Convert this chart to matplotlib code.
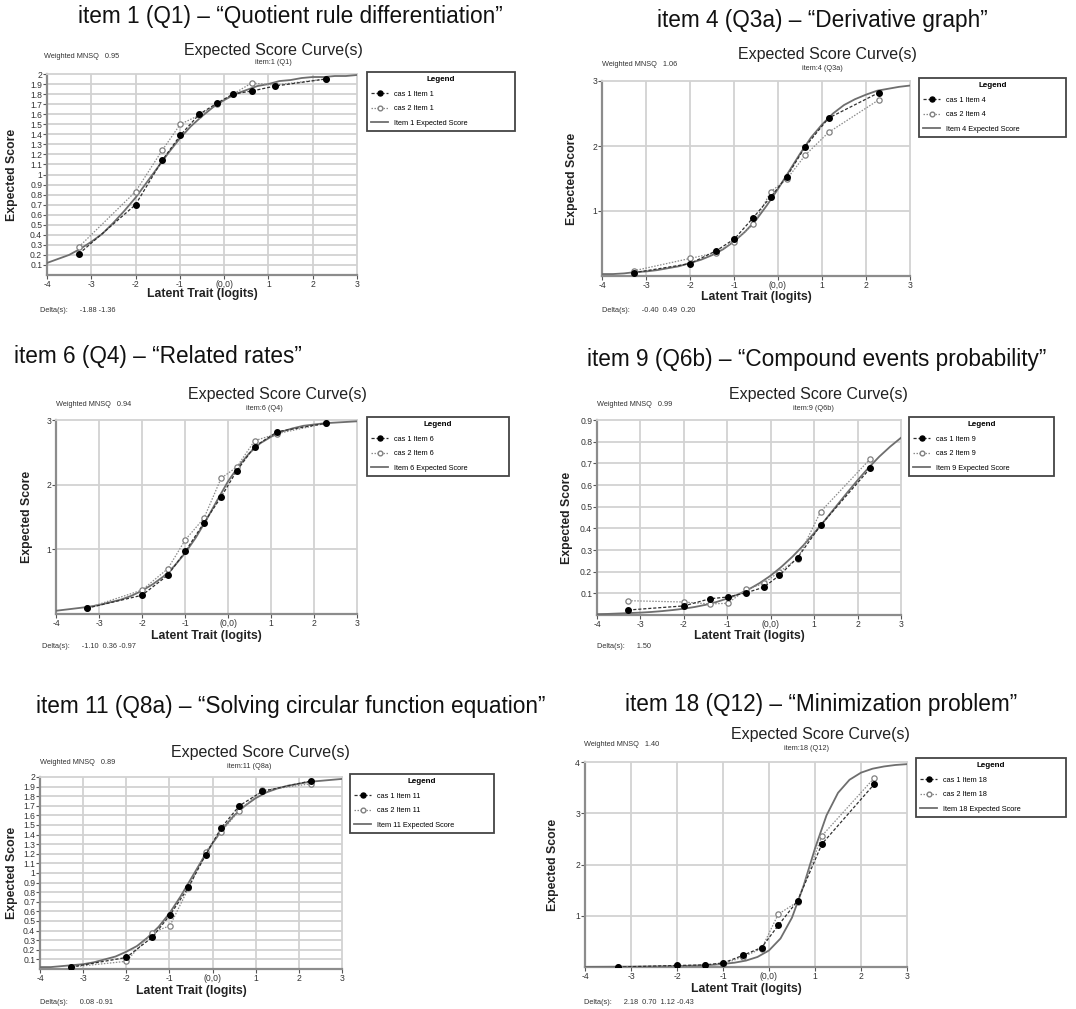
import matplotlib
matplotlib.use("Agg")
import matplotlib.pyplot as plt
from matplotlib.lines import Line2D

plt.rcParams["font.family"] = ["Liberation Sans", "DejaVu Sans"]

# ---------------- data ----------------
theta = [-4, -3.75, -3.5, -3.25, -3, -2.75, -2.5, -2.25, -2, -1.75, -1.5, -1.25, -1,
         -0.75, -0.5, -0.25, 0, 0.25, 0.5, 0.75, 1, 1.25, 1.5, 1.75, 2, 2.25, 2.5, 2.75, 3]
groups = [-3.28, -2.0, -1.4, -0.99, -0.56, -0.16, 0.2, 0.62, 1.15, 2.29]

item1_curve = [0.12, 0.16, 0.20, 0.26, 0.33, 0.41, 0.52, 0.64, 0.77, 0.92, 1.07, 1.22, 1.36,
               1.48, 1.58, 1.67, 1.74, 1.80, 1.84, 1.88, 1.90, 1.93, 1.94, 1.96, 1.97, 1.97,
               1.98, 1.98, 1.99]
item1_cas1 = [0.21, 0.70, 1.14, 1.39, 1.60, 1.71, 1.80, 1.83, 1.88, 1.95]
item1_cas2 = [0.28, 0.83, 1.24, 1.50, 1.59, 1.70, 1.80, 1.91, 1.89, 1.95]

item4_curve = [0.03, 0.03, 0.04, 0.06, 0.07, 0.09, 0.12, 0.15, 0.20, 0.25, 0.32, 0.41, 0.53,
               0.68, 0.86, 1.09, 1.34, 1.61, 1.88, 2.13, 2.33, 2.50, 2.63, 2.72, 2.79, 2.85,
               2.88, 2.91, 2.93]
item4_cas1 = [0.05, 0.19, 0.39, 0.57, 0.90, 1.22, 1.53, 1.99, 2.43, 2.82]
item4_cas2 = [0.08, 0.27, 0.36, 0.53, 0.80, 1.30, 1.49, 1.86, 2.21, 2.71]

item6_curve = [0.05, 0.07, 0.09, 0.11, 0.14, 0.18, 0.22, 0.28, 0.36, 0.46, 0.58, 0.74, 0.94,
               1.18, 1.46, 1.76, 2.05, 2.29, 2.49, 2.64, 2.74, 2.82, 2.87, 2.91, 2.93, 2.95,
               2.96, 2.97, 2.98]
item6_cas1 = [0.09, 0.29, 0.60, 0.97, 1.41, 1.81, 2.21, 2.59, 2.82, 2.95]
item6_cas2 = [0.09, 0.37, 0.70, 1.15, 1.48, 2.10, 2.27, 2.68, 2.79, 2.95]

item9_curve = [0.004, 0.005, 0.007, 0.009, 0.011, 0.014, 0.018, 0.023, 0.029, 0.037, 0.047,
               0.060, 0.076, 0.095, 0.119, 0.148, 0.182, 0.223, 0.269, 0.321, 0.378, 0.438,
               0.500, 0.562, 0.622, 0.679, 0.731, 0.777, 0.818]
item9_cas1 = [0.023, 0.042, 0.075, 0.083, 0.103, 0.128, 0.183, 0.265, 0.414, 0.677]
item9_cas2 = [0.066, 0.060, 0.051, 0.054, 0.118, 0.146, 0.200, 0.260, 0.477, 0.720]

item11_curve = [0.02, 0.02, 0.03, 0.04, 0.05, 0.07, 0.10, 0.13, 0.18, 0.24, 0.33, 0.44, 0.58,
                0.75, 0.94, 1.13, 1.31, 1.47, 1.60, 1.70, 1.78, 1.84, 1.88, 1.91, 1.93, 1.95,
                1.96, 1.97, 1.98]
item11_cas1 = [0.02, 0.12, 0.33, 0.56, 0.85, 1.19, 1.47, 1.70, 1.85, 1.96]
item11_cas2 = [0.02, 0.08, 0.38, 0.45, 0.84, 1.22, 1.43, 1.65, 1.86, 1.93]

item18_curve = [0.002, 0.003, 0.004, 0.005, 0.006, 0.008, 0.010, 0.013, 0.017, 0.023, 0.031,
                0.042, 0.059, 0.084, 0.125, 0.196, 0.323, 0.556, 0.964, 1.581, 2.313, 2.958,
                3.398, 3.653, 3.792, 3.869, 3.913, 3.942, 3.958]
item18_cas1 = [0.00, 0.03, 0.04, 0.08, 0.23, 0.38, 0.81, 1.29, 2.40, 3.57]
item18_cas2 = [0.00, 0.01, 0.03, 0.06, 0.20, 0.36, 1.03, 1.27, 2.56, 3.69]

headlines = ["item 1 (Q1) \u2013 \u201cQuotient rule differentiation\u201d",
             "item 4 (Q3a) \u2013 \u201cDerivative graph\u201d",
             "item 6 (Q4) \u2013 \u201cRelated rates\u201d",
             "item 9 (Q6b) \u2013 \u201cCompound events probability\u201d",
             "item 11 (Q8a) \u2013 \u201cSolving circular function equation\u201d",
             "item 18 (Q12) \u2013 \u201cMinimization problem\u201d"]
item_nums = [1, 4, 6, 9, 11, 18]
item_codes = ["Q1", "Q3a", "Q4", "Q6b", "Q8a", "Q12"]
mnsq = ["0.95", "1.06", "0.94", "0.99", "0.89", "1.40"]
deltas = ["-1.88 -1.36", "-0.40  0.49  0.20", "-1.10  0.36 -0.97", "1.50",
          "0.08 -0.91", "2.18  0.70  1.12 -0.43"]
curves = [item1_curve, item4_curve, item6_curve, item9_curve, item11_curve, item18_curve]
cas1 = [item1_cas1, item4_cas1, item6_cas1, item9_cas1, item11_cas1, item18_cas1]
cas2 = [item1_cas2, item4_cas2, item6_cas2, item9_cas2, item11_cas2, item18_cas2]
ytick_sets = [[round(0.1 * k, 1) for k in range(1, 21)], [1, 2, 3], [1, 2, 3],
              [round(0.1 * k, 1) for k in range(1, 10)],
              [round(0.1 * k, 1) for k in range(1, 21)], [1, 2, 3, 4]]
ymax = [2, 3, 3, 0.9, 2, 4]
xticks = [-4, -3, -2, -1, 0, 1, 2, 3]
xticklabels = ["-4", "-3", "-2", "-1", "(0,0)", "1", "2", "3"]

# ---------------- layout (pixels) ----------------
W, H = 1076, 1009
axes_px = [(47, 357, 74, 275), (602, 910, 81, 276), (56, 357, 420, 614),
           (597, 901, 420, 615), (40, 342, 777, 969), (585, 907, 762, 967)]
legend_px = [(367, 515, 72), (919, 1066, 78), (367, 509, 417),
             (909, 1054, 417), (350, 494, 774), (916, 1066, 758)]
headline_xy = [(290, 17), (822, 20), (158, 357), (817, 360), (291, 706), (821, 704)]
sub_xy = [(273, 51), (827, 55), (277, 395), (818, 395), (260, 752), (820, 734)]
itemtxt_xy = [(273, 63), (822, 69), (264, 408), (813, 408), (249, 766), (807, 749)]
mnsq_xy = [(44, 57), (602, 65), (56, 404), (597, 404), (40, 762), (584, 744)]
delta_xy = [(40, 311), (602, 311), (42, 647), (597, 647), (40, 1003), (584, 1003)]
xlab_y = [294, 297, 636, 636, 991, 989]
ylab_x = [12, 572, 27, 567, 12, 553]


def fx(px):
    return px / W


def fy(py):
    return 1 - py / H


fig = plt.figure(figsize=(W / 100, H / 100), dpi=100)
fig.patch.set_facecolor("white")

for i in range(6):
    l, r, t, b = axes_px[i]
    ax = fig.add_axes([fx(l), fy(b), (r - l) / W, (b - t) / H])
    ax.set_xlim(-4, 3)
    ax.set_ylim(0, ymax[i])

    for xv in [-3, -2, -1, 0, 1, 2]:
        ax.axvline(xv, color="#d2d2d2", lw=1.3, zorder=1)
    for yv in ytick_sets[i]:
        if yv < ymax[i]:
            ax.axhline(yv, color="#d2d2d2", lw=1.3, zorder=1)

    ax.plot(theta, curves[i], color="#6e6e6e", lw=1.3, zorder=3)
    ax.plot(groups, cas2[i], color="#8a8a8a", lw=0.9, ls=(0, (1.2, 1.2)),
            marker="o", ms=3.8, mfc="white", mec="#808080", mew=0.9, zorder=4)
    ax.plot(groups, cas1[i], color="#303030", lw=0.9, ls=(0, (2.5, 1.5)),
            marker="o", ms=4.0, mfc="black", mec="black", zorder=5)

    ax.set_xticks(xticks)
    ax.set_xticklabels(xticklabels)
    ax.set_yticks(ytick_sets[i])
    ax.set_yticklabels([("%g" % v) for v in ytick_sets[i]])
    ax.tick_params(labelsize=6.2, colors="#555555", labelcolor="#333333",
                   length=3, width=0.8, pad=0.5)
    for side in ["top", "right"]:
        ax.spines[side].set_color("#d2d2d2")
        ax.spines[side].set_linewidth(1.3)
    for side in ["left", "bottom"]:
        ax.spines[side].set_color("#8c8c8c")
        ax.spines[side].set_linewidth(1.6)

    cx = (l + r) / 2
    fig.text(fx(cx), fy(xlab_y[i]), "Latent Trait (logits)", ha="center", va="center",
             fontsize=8.8, fontweight="bold", color="#222222")
    fig.text(fx(ylab_x[i]), fy((t + b) / 2), "Expected Score", ha="center", va="center",
             rotation=90, fontsize=8.8, fontweight="bold", color="#222222")

    fig.text(fx(headline_xy[i][0]), fy(headline_xy[i][1]), headlines[i], ha="center",
             va="center", fontsize=16.3, color="#111111")
    fig.text(fx(sub_xy[i][0]), fy(sub_xy[i][1]), "Expected Score Curve(s)", ha="center",
             va="center", fontsize=11.5, color="#222222")
    fig.text(fx(itemtxt_xy[i][0]), fy(itemtxt_xy[i][1]),
             "item:%d (%s)" % (item_nums[i], item_codes[i]), ha="center", va="center",
             fontsize=5.3, color="#333333")
    fig.text(fx(mnsq_xy[i][0]), fy(mnsq_xy[i][1]), "Weighted MNSQ   " + mnsq[i],
             ha="left", va="center", fontsize=5.3, color="#333333")
    fig.text(fx(delta_xy[i][0]), fy(delta_xy[i][1]), "Delta(s):      " + deltas[i],
             ha="left", va="center", fontsize=5.3, color="#333333")

    n = item_nums[i]
    handles = [Line2D([], [], color="#303030", lw=0.9, ls=(0, (2.5, 1.5)), marker="o",
                      ms=3.6, mfc="black", mec="black"),
               Line2D([], [], color="#8a8a8a", lw=0.9, ls=(0, (1.2, 1.2)), marker="o",
                      ms=3.4, mfc="white", mec="#808080"),
               Line2D([], [], color="#6e6e6e", lw=1.3)]
    labels = ["cas 1 Item %d" % n, "cas 2 Item %d" % n, "Item %d Expected Score" % n]
    lx0, lx1, ly0 = legend_px[i]
    leg = ax.legend(handles, labels, title="Legend", loc="upper left",
                    bbox_to_anchor=(fx(lx0), fy(ly0), (lx1 - lx0) / W, 0.0001),
                    bbox_transform=fig.transFigure, mode="expand", borderaxespad=0,
                    frameon=True, fancybox=False, edgecolor="#444444", framealpha=1,
                    prop={"size": 5.3}, handlelength=2.2,
                    handletextpad=0.9, labelspacing=1.0, borderpad=0.6,
                    title_fontproperties={"weight": "bold", "size": 5.8})
    leg.get_frame().set_linewidth(1.3)

fig.savefig("out.png", dpi=100, facecolor="white")
